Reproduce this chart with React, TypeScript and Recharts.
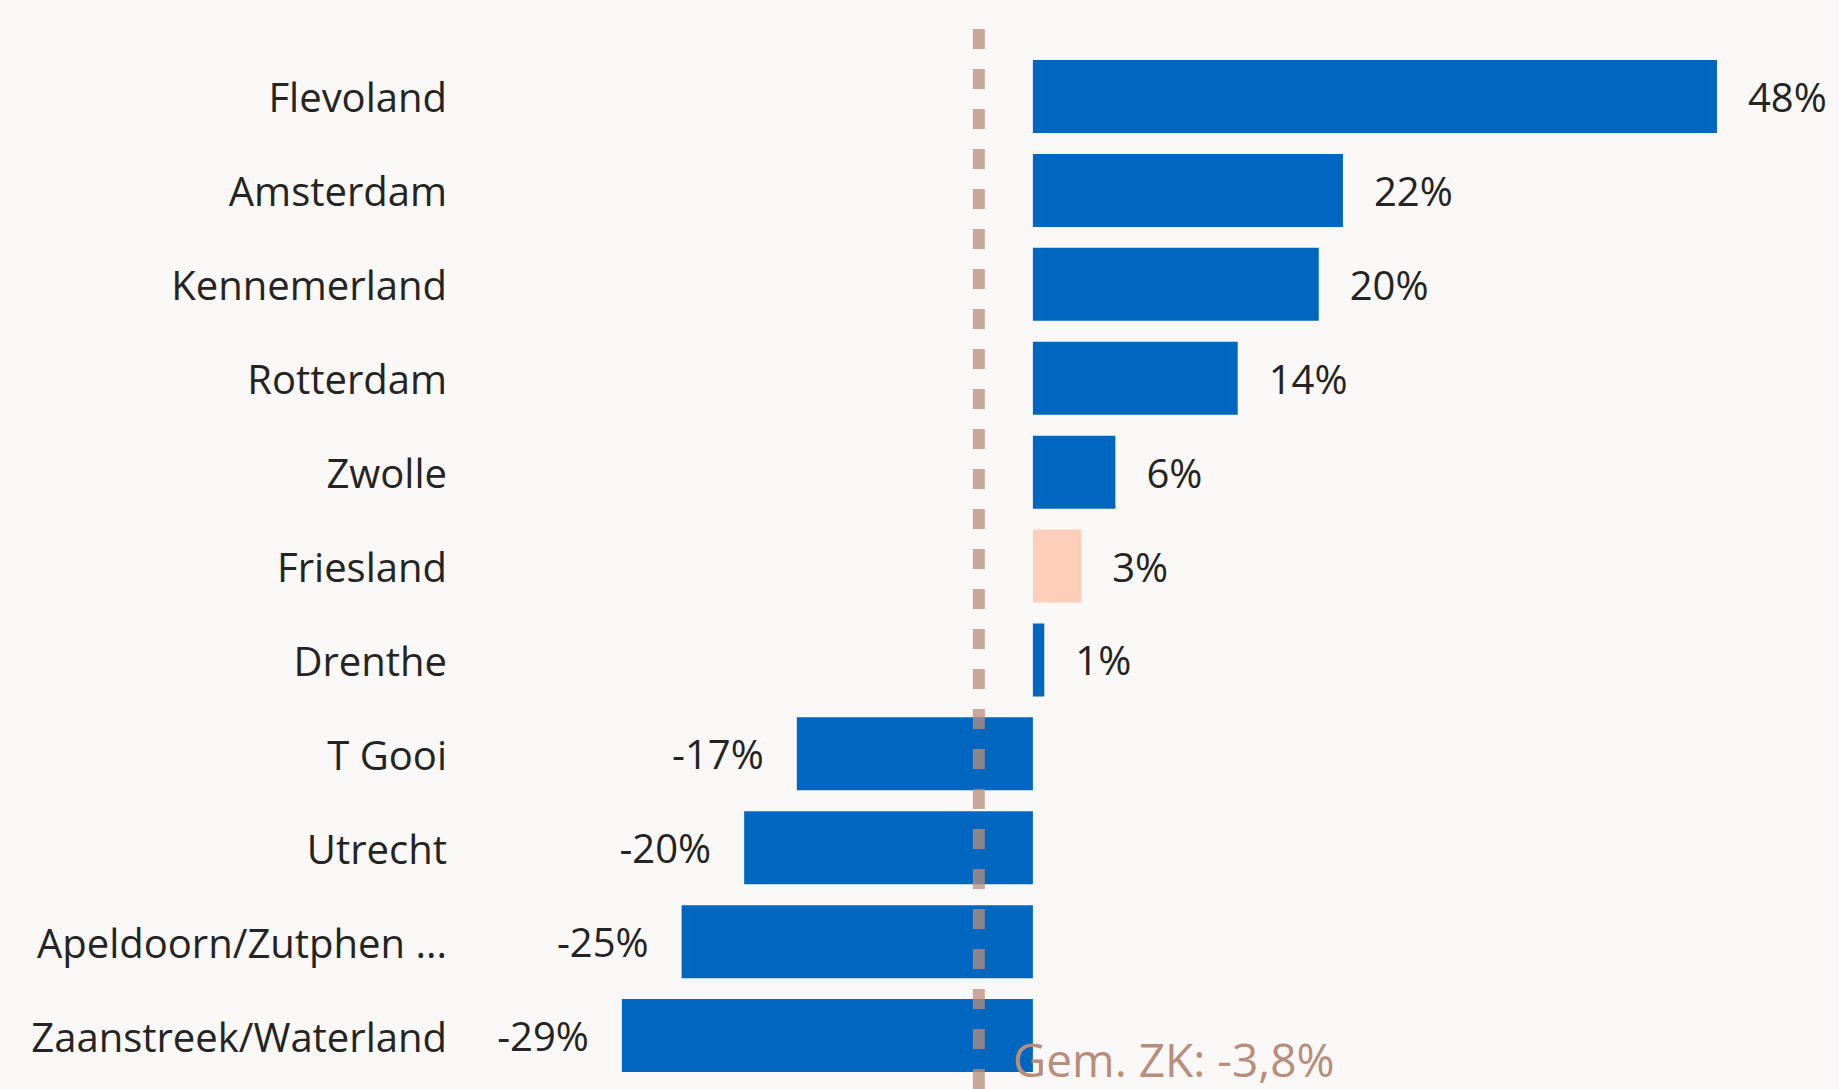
import React from 'react';
import { BarChart, Bar, XAxis, YAxis, Cell, LabelList, ReferenceLine } from 'recharts';

const regions = [
  'Flevoland',
  'Amsterdam',
  'Kennemerland',
  'Rotterdam',
  'Zwolle',
  'Friesland',
  'Drenthe',
  'T Gooi',
  'Utrecht',
  'Apeldoorn/Zutphen ...',
  'Zaanstreek/Waterland',
];
const changes = [48.1, 21.8, 20.1, 14.4, 5.8, 3.4, 0.8, -16.6, -20.3, -24.7, -28.9];
const highlighted = ['Friesland'];
const average = -3.8;
const averageLabel = 'Gem. ZK: -3,8%';

const data = regions.map((name, i) => ({ name, value: changes[i] }));

const FONT = '"Open Sans", "Noto Sans", sans-serif';
const TEXT = '#252423';
const BLUE = '#0067C0';
const PEACH = '#FFCEBB';
const AVG = '#B88D7C';

const RegionTick = ({ x, y, payload }: any) => (
  <text x={x} y={y} textAnchor="end" dominantBaseline="central" fontSize={40} fontFamily={FONT} fill={TEXT}>
    {payload.value}
  </text>
);

const ValueLabel = ({ x, y, width, height, value }: any) => {
  const left = Math.min(x, x + width);
  const right = Math.max(x, x + width);
  const neg = value < 0;
  return (
    <text
      x={neg ? left - 33 : right + 31}
      y={y + height / 2}
      textAnchor={neg ? 'end' : 'start'}
      dominantBaseline="central"
      fontSize={40}
      fontFamily={FONT}
      fill={TEXT}
    >
      {Math.round(value)}%
    </text>
  );
};

// label sits low, just above the bottom edge, right of the dashed line
const AvgLabel = ({ viewBox }: any) => (
  <text x={viewBox.x + 34} y={viewBox.y + viewBox.height - 12} fontSize={46} fontFamily={FONT} fill={AVG}>
    {averageLabel}
  </text>
);

export default function App() {
  return (
    <div style={{ position: 'fixed', left: 0, top: 0, width: 1839, height: 1089, background: '#F9F8F6' }}>
      <BarChart
        width={1839}
        height={1089}
        data={data}
        layout="vertical"
        margin={{ top: 23, right: 95, bottom: 0, left: 0 }}
      >
        <XAxis type="number" domain={[-40, 50]} allowDataOverflow hide />
        <YAxis
          type="category"
          dataKey="name"
          width={464}
          axisLine={false}
          tickLine={false}
          tickSize={0}
          tickMargin={17}
          tick={<RegionTick />}
          interval={0}
          padding={{ top: 27, bottom: 6 }}
        />
        <Bar dataKey="value" barSize={73} isAnimationActive={false}>
          {data.map((d) => (
            <Cell key={d.name} fill={highlighted.includes(d.name) ? PEACH : BLUE} />
          ))}
          <LabelList dataKey="value" content={<ValueLabel />} />
        </Bar>
        <ReferenceLine
          x={average}
          stroke={AVG}
          strokeOpacity={0.75}
          strokeWidth={12}
          strokeDasharray="20 20"
          label={<AvgLabel />}
        />
      </BarChart>
    </div>
  );
}
